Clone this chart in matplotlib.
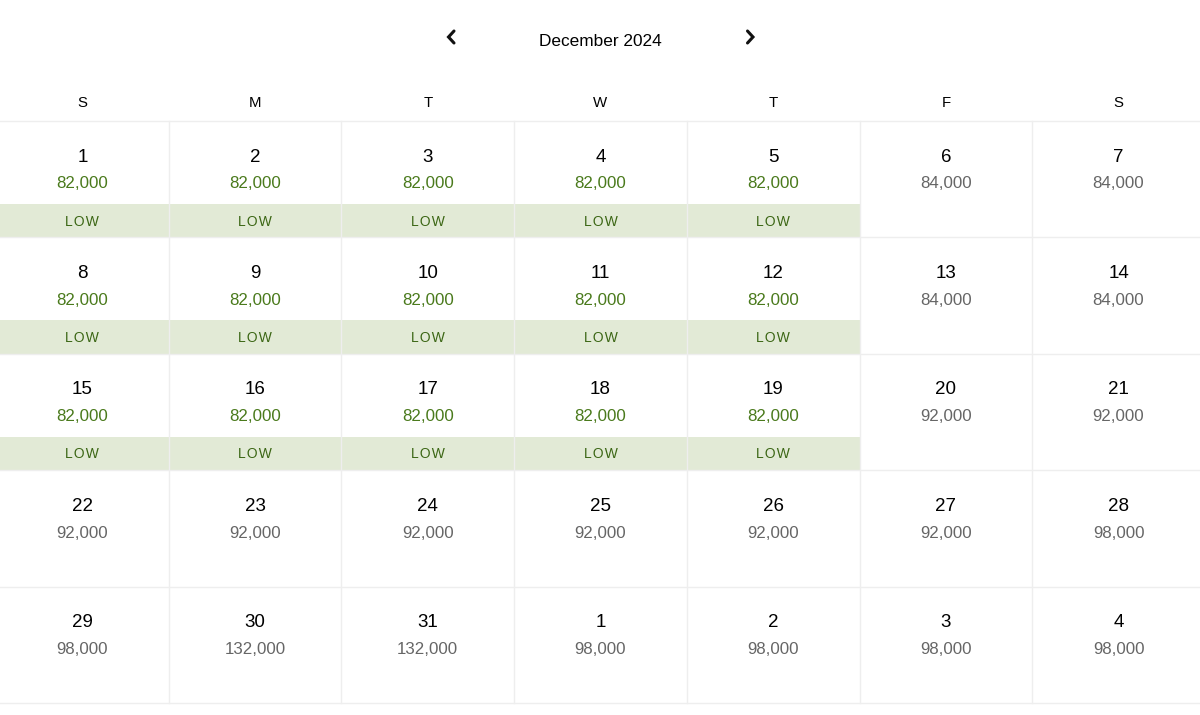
import matplotlib
matplotlib.use("Agg")
import matplotlib.pyplot as plt
from matplotlib.patches import Rectangle

plt.rcParams['font.family'] = ['Liberation Sans', 'DejaVu Sans']

title = "December 2024"
weekdays = ["S", "M", "T", "W", "T", "F", "S"]
days = [1, 2, 3, 4, 5, 6, 7,
        8, 9, 10, 11, 12, 13, 14,
        15, 16, 17, 18, 19, 20, 21,
        22, 23, 24, 25, 26, 27, 28,
        29, 30, 31, 1, 2, 3, 4]
prices = [82000, 82000, 82000, 82000, 82000, 84000, 84000,
          82000, 82000, 82000, 82000, 82000, 84000, 84000,
          82000, 82000, 82000, 82000, 82000, 92000, 92000,
          92000, 92000, 92000, 92000, 92000, 92000, 98000,
          98000, 132000, 132000, 98000, 98000, 98000, 98000]
low_flags = [1, 1, 1, 1, 1, 0, 0,
             1, 1, 1, 1, 1, 0, 0,
             1, 1, 1, 1, 1, 0, 0,
             0, 0, 0, 0, 0, 0, 0,
             0, 0, 0, 0, 0, 0, 0]

W, H = 1200, 715
fig = plt.figure(figsize=(12, 7.15), dpi=100)
ax = fig.add_axes([0, 0, 1, 1])
ax.set_xlim(0, W)
ax.set_ylim(H, 0)
ax.axis('off')

x0, cw = -4.0, 172.7
y0, rh = 121.0, 116.4
ncols, nrows = 7, 5

green = "#4a7a1c"
low_green = "#3b6614"
band = "#e2ead6"
gray = "#666666"
line = "#eeeeee"

# LOW bands
for i, (d, p, lo) in enumerate(zip(days, prices, low_flags)):
    r, c = divmod(i, ncols)
    left = x0 + c * cw
    top = y0 + r * rh
    if lo:
        ax.add_patch(Rectangle((left, top + 83), cw, rh - 83, facecolor=band,
                               edgecolor='none', zorder=1))

# grid lines
for c in range(1, ncols):
    x = x0 + c * cw
    ax.plot([x, x], [y0, y0 + nrows * rh], color=line, lw=1, zorder=2)
for r in range(nrows + 1):
    y = y0 + r * rh
    ax.plot([0, W], [y, y], color=line, lw=1, zorder=2)

# cell text
for i, (d, p, lo) in enumerate(zip(days, prices, low_flags)):
    r, c = divmod(i, ncols)
    cx = x0 + (c + 0.5) * cw
    top = y0 + r * rh
    ax.text(cx, top + 36, str(d), ha='center', va='center', fontsize=13.5,
            color='#000000', zorder=3)
    ax.text(cx, top + 63, f"{p:,}", ha='center', va='center', fontsize=12.2,
            color=green if lo else gray, zorder=3)
    if lo:
        ax.text(cx, top + 100.5, "L O W".replace(" ", "\u200a"), ha='center',
                va='center', fontsize=10, color=low_green, zorder=3)

# weekday header
for c, wd in enumerate(weekdays):
    cx = x0 + (c + 0.5) * cw
    ax.text(cx, 103, wd, ha='center', va='center', fontsize=10.8, color='#000000')

# title and arrows
ax.text(600, 42, title, ha='center', va='center', fontsize=12.4, color='#000000')
ax.plot([454, 448.5, 454], [31, 37, 43], color='#111111', lw=2.2,
        solid_capstyle='round', solid_joinstyle='miter')
ax.plot([747.5, 753, 747.5], [31, 37, 43], color='#111111', lw=2.2,
        solid_capstyle='round', solid_joinstyle='miter')

fig.savefig("out.png", dpi=100, facecolor='white')
